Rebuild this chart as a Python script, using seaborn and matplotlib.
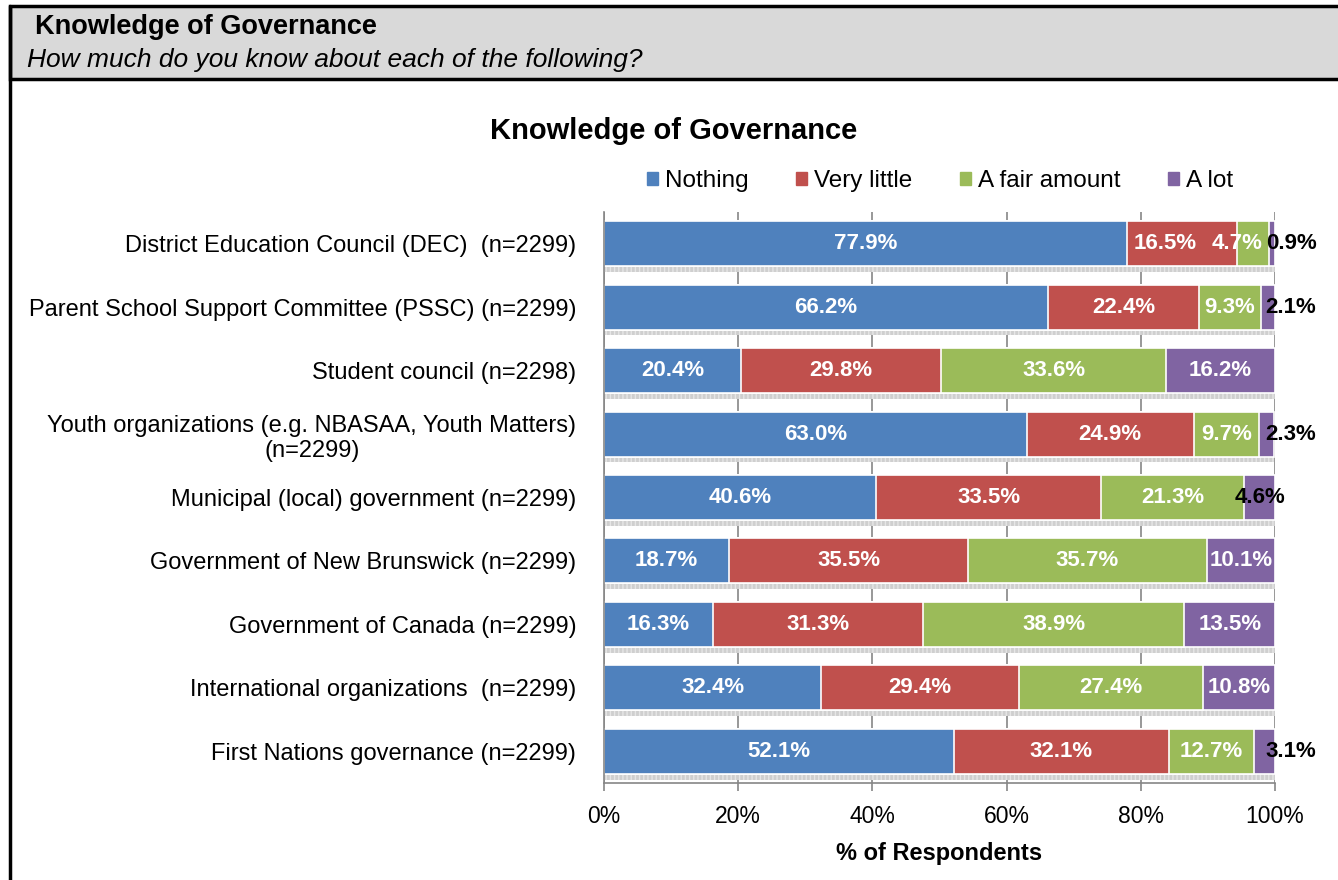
import seaborn as sns
import matplotlib.pyplot as plt
import numpy as np
from matplotlib.patches import Rectangle
from matplotlib.lines import Line2D

# survey data
categories = [
    "District Education Council (DEC)  (n=2299)",
    "Parent School Support Committee (PSSC) (n=2299)",
    "Student council (n=2298)",
    "Youth organizations (e.g. NBASAA, Youth Matters)\n(n=2299)",
    "Municipal (local) government (n=2299)",
    "Government of New Brunswick (n=2299)",
    "Government of Canada (n=2299)",
    "International organizations  (n=2299)",
    "First Nations governance (n=2299)",
]
series = ["Nothing", "Very little", "A fair amount", "A lot"]
nothing = [77.9, 66.2, 20.4, 63.0, 40.6, 18.7, 16.3, 32.4, 52.1]
very_little = [16.5, 22.4, 29.8, 24.9, 33.5, 35.5, 31.3, 29.4, 32.1]
fair_amount = [4.7, 9.3, 33.6, 9.7, 21.3, 35.7, 38.9, 27.4, 12.7]
a_lot = [0.9, 2.1, 16.2, 2.3, 4.6, 10.1, 13.5, 10.8, 3.1]
colors = ["#4f81bd", "#c0504d", "#9bbb59", "#8064a2"]

sns.set_style('white')
plt.rcParams['font.family'] = ['Liberation Sans', 'DejaVu Sans']
plt.rcParams['text.color'] = 'black'
plt.rcParams['axes.labelcolor'] = 'black'
plt.rcParams['xtick.labelcolor'] = 'black'
plt.rcParams['ytick.labelcolor'] = 'black'

values = np.array([nothing, very_little, fair_amount, a_lot])
cum = values.cumsum(axis=0)
totals = values.sum(axis=0)

fig = plt.figure(figsize=(13.38, 8.8), dpi=100)

# header box and outer frame
fig.patches.append(Rectangle((10 / 1338, 1 - 79 / 880), 1.0, 73 / 880, transform=fig.transFigure,
                             facecolor="#d9d9d9", edgecolor="black", linewidth=2.5, zorder=0))
fig.lines.append(Line2D([10 / 1338, 10 / 1338], [0, 1 - 6 / 880], transform=fig.transFigure,
                        color="black", linewidth=2.5))
fig.text(35 / 1338, 1 - 27 / 880, "Knowledge of Governance", fontsize=19.5, fontweight="bold",
         va="center", ha="left")
fig.text(27 / 1338, 1 - 60 / 880, "How much do you know about each of the following?", fontsize=19,
         style="italic", va="center", ha="left")
fig.text(674 / 1338, 1 - 131 / 880, "Knowledge of Governance", fontsize=21, fontweight="bold",
         va="center", ha="center")

ax = fig.add_axes([604 / 1338, 1 - 783 / 880, (1275 - 604) / 1338, (783 - 212) / 880])

# drop shadow under each bar
pos = np.arange(len(categories))
ax.barh(pos + 0.4, totals, height=0.09, color="#cfcfcf", hatch="||||", edgecolor="#e6e6e6",
        linewidth=0, zorder=1)

# stacked bars: draw cumulative totals from the right-most series down
for i in range(len(series) - 1, -1, -1):
    sns.barplot(x=cum[i], y=categories, orient="h", color=colors[i], saturation=1, width=0.71,
                edgecolor="white", linewidth=1.2, ax=ax, zorder=2)

# data labels
for i in range(len(series)):
    for j in range(len(categories)):
        v = values[i][j]
        xc = cum[i][j] - v / 2
        col = "white"
        # crowded row: small green segment pushes labels to the left
        if i == 1 and values[2][j] < 5:
            xc -= 2.5
        if i == 2 and v < 5:
            xc = cum[i - 1][j]
        if i == 3 and v < 5:
            col = "black"
            if v < 4:
                xc = 102.4
        ax.text(xc, j, f"{v:.1f}%", ha="center", va="center", color=col, fontsize=16,
                fontweight="bold", zorder=5)

ax.set_xlim(0, 100)
ax.set_ylim(len(categories) - 0.5, -0.5)
ax.set_xticks(np.arange(0, 101, 20))
ax.set_xticklabels([f"{t}%" for t in range(0, 101, 20)], fontsize=16.5)
ax.set_yticks(pos)
ax.set_yticklabels(categories, fontsize=17)
for lab in ax.get_yticklabels():
    lab.set_multialignment("center")
ax.set_yticks(np.arange(-0.5, len(categories), 1), minor=True)
ax.tick_params(axis="y", which="major", length=0, pad=20)
ax.tick_params(axis="y", which="minor", length=6, color="#868686", width=1.2)
ax.tick_params(axis="x", length=6, color="#868686", width=1.2, pad=10, bottom=True)
ax.xaxis.grid(True, color="#868686", linewidth=1.2, zorder=0)
ax.set_axisbelow(True)
ax.set_ylabel("")
ax.set_xlabel("% of Respondents", fontsize=17, fontweight="bold", labelpad=10)
for s in ["top", "right"]:
    ax.spines[s].set_visible(False)
for s in ["left", "bottom"]:
    ax.spines[s].set_color("#868686")
    ax.spines[s].set_linewidth(1.2)

handles = [Rectangle((0, 0), 1, 1, color=c) for c in colors]
fig.legend(handles, series, loc="center", bbox_to_anchor=(940 / 1338, 1 - 181 / 880), ncol=4,
           frameon=False, fontsize=17.5, handlelength=0.45, handleheight=0.45, handletextpad=0.3,
           columnspacing=1.95)

fig.savefig("out.png", dpi=100)
